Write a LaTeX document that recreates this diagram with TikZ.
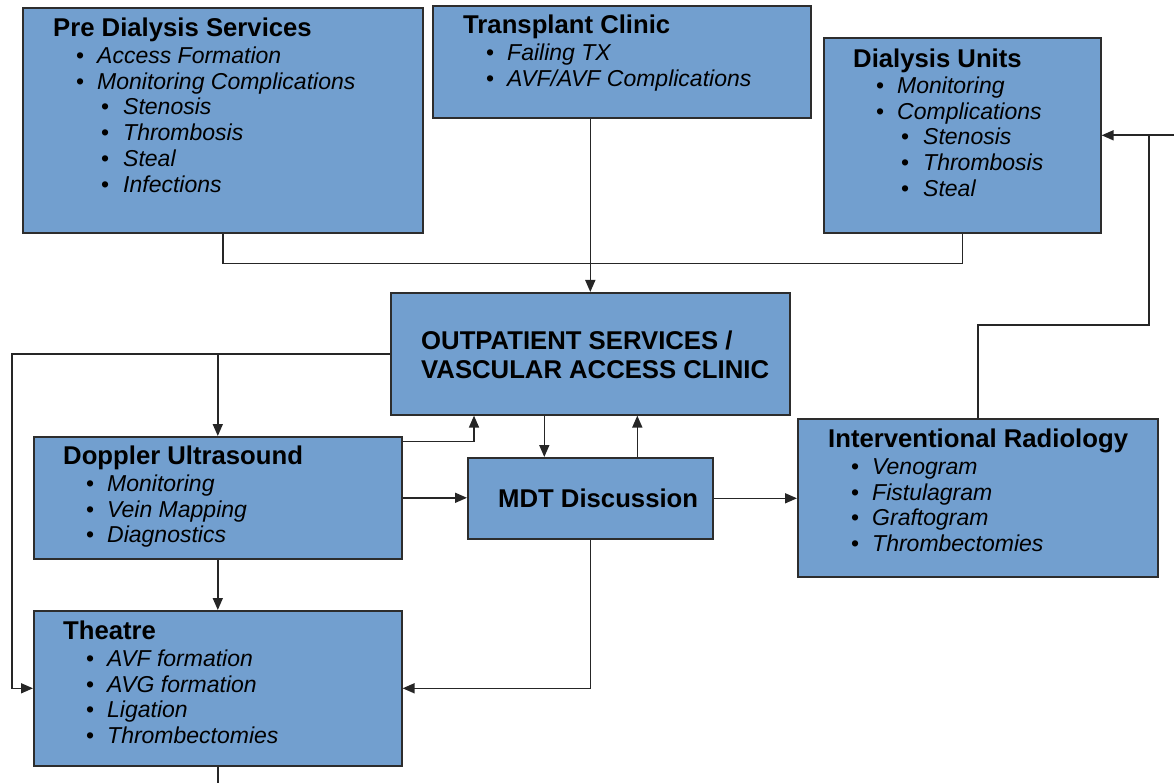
\documentclass[tikz,border=0pt]{standalone}
\usepackage{fontspec}
\setmainfont{Liberation Sans}
\usetikzlibrary{arrows.meta, positioning, calc}

\definecolor{boxblue}{RGB}{114,159,207}
\definecolor{edgegray}{RGB}{45,45,45}

% heading and bullet lines inside the boxes
\newcommand{\ttl}[1]{{\fontsize{25.7}{26}\selectfont\bfseries #1}}
\newcommand{\itemone}[1]{\hspace*{23pt}\makebox[21pt][l]{\textbullet}\textit{#1}}
\newcommand{\itemtwo}[1]{\hspace*{48pt}\makebox[22pt][l]{\textbullet}\textit{#1}}

\begin{document}
\begin{tikzpicture}[
    x=1pt, y=-1pt,
    box/.style={rectangle, draw=edgegray, line width=1.6pt, fill=boxblue, anchor=north west, inner sep=0pt},
    txt/.style={anchor=north west, inner sep=0pt, align=left, font=\fontsize{23}{25.7}\selectfont},
    arrow/.style={-{Triangle[length=12pt, width=10pt]}, line width=1.6pt, draw=black!85},
    link/.style={line width=1.6pt, draw=black!85}
]
    \useasboundingbox (0,0) rectangle (1174,783);

    % boxes
    \node[box, minimum width=400pt, minimum height=225pt] (predial) at (22,7) {};
    \node[box, minimum width=378pt, minimum height=112pt] (transplant) at (432,5) {};
    \node[box, minimum width=277pt, minimum height=195pt] (dialysis) at (823,37) {};
    \node[box, minimum width=399pt, minimum height=122pt] (outpat) at (390,292) {};
    \node[box, minimum width=368pt, minimum height=122pt] (doppler) at (33,436) {};
    \node[box, minimum width=245pt, minimum height=81pt] (mdt) at (467,457) {};
    \node[box, minimum width=360pt, minimum height=158pt] (radiology) at (797,418) {};
    \node[box, minimum width=368pt, minimum height=155pt] (theatre) at (33,610) {};

    % box texts
    \node[txt] (predialtxt) at (53,17.5) {\ttl{Pre Dialysis Services}\\[1.5pt]
        \itemone{Access Formation}\\
        \itemone{Monitoring Complications}\\
        \itemtwo{Stenosis}\\
        \itemtwo{Thrombosis}\\
        \itemtwo{Steal}\\
        \itemtwo{Infections}};
    \node[txt] (transplanttxt) at (463,14.5) {\ttl{Transplant Clinic}\\[1.5pt]
        \itemone{Failing TX}\\
        \itemone{AVF/AVF Complications}};
    \node[txt] (dialysistxt) at (853,48.5) {\ttl{Dialysis Units}\\[0.5pt]
        \itemone{Monitoring}\\
        \itemone{Complications}\\
        \itemtwo{Stenosis}\\
        \itemtwo{Thrombosis}\\
        \itemtwo{Steal}};
    \node[txt, font=\fontsize{25.7}{29}\selectfont\bfseries] (outpattxt) at (421,330.5)
        {OUTPATIENT SERVICES /\\VASCULAR ACCESS CLINIC};
    \node[txt] (dopplertxt) at (63,445.5) {\ttl{Doppler Ultrasound}\\[1.5pt]
        \itemone{Monitoring}\\
        \itemone{Vein Mapping}\\
        \itemone{Diagnostics}};
    \node[anchor=west, inner sep=0pt, font=\fontsize{25.7}{29}\selectfont\bfseries] (mdttxt) at (498,498) {MDT Discussion};
    \node[txt] (radiologytxt) at (828,428.5) {\ttl{Interventional Radiology}\\[1.5pt]
        \itemone{Venogram}\\
        \itemone{Fistulagram}\\
        \itemone{Graftogram}\\
        \itemone{Thrombectomies}};
    \node[txt] (theatretxt) at (63,620.5) {\ttl{Theatre}\\[1.5pt]
        \itemone{AVF formation}\\
        \itemone{AVG formation}\\
        \itemone{Ligation}\\
        \itemone{Thrombectomies}};

    % connectors
    \coordinate (turn) at (1149,325);
    \coordinate (rimend) at (1180,800);
    \draw[link] (predial.south) -- ++(0,30) -| (dialysis.south);
    \draw[arrow] (outpat.north |- transplant.south) -- (outpat.north);
    \draw[arrow] (outpat.west) -- ++(-378,0) |- (theatre.west);
    \draw[arrow] (outpat.west -| doppler.north) -- (doppler.north);
    \draw[arrow] ([yshift=-5.5pt]doppler.north east) -| ([xshift=84pt]outpat.south west);
    \draw[arrow] ([xshift=-46pt]outpat.south) -- ([xshift=-46pt]mdt.north);
    \draw[arrow] ([xshift=47pt]mdt.north) -- ([xshift=47pt]outpat.south);
    \draw[arrow] (doppler.east) -- (doppler.east -| mdt.west);
    \draw[arrow] (mdt.east) -- (mdt.east -| radiology.west);
    \draw[arrow] (mdt.south) |- (theatre.east);
    \draw[arrow] (doppler.south) -- (theatre.north);
    \draw[link] (theatre.south) -- (theatre.south |- rimend);
    \draw[arrow] (radiology.north) |- (turn) |- (dialysis.east);
    \draw[link] (dialysis.east -| rimend) -- (dialysis.east -| turn);
\end{tikzpicture}
\end{document}
